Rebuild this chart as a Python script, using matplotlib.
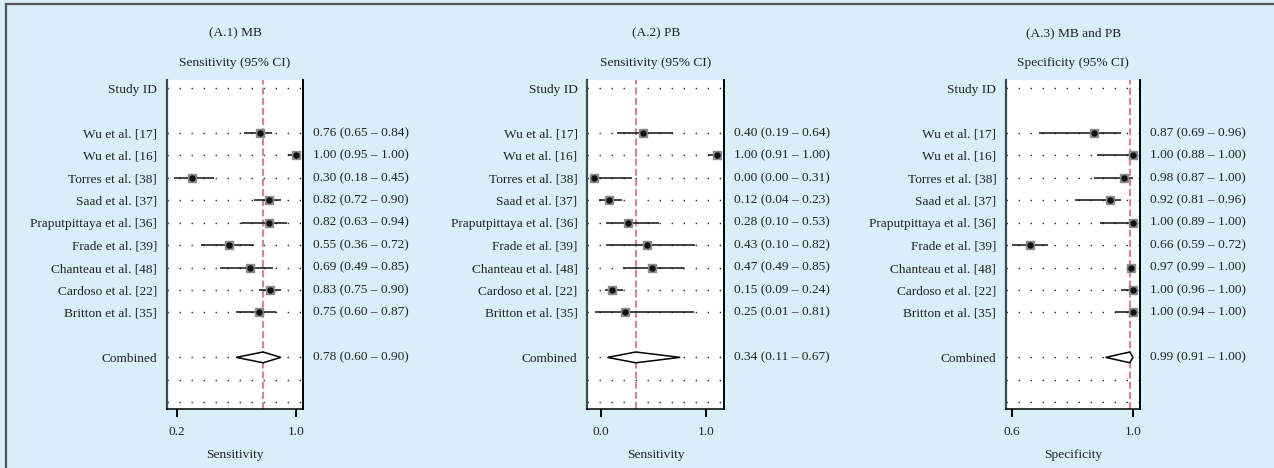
import matplotlib
matplotlib.use("Agg")
import matplotlib.pyplot as plt
from matplotlib.lines import Line2D

plt.rcParams["font.family"] = ["Liberation Serif", "DejaVu Serif"]
plt.rcParams["lines.scale_dashes"] = False

# --- data ---
studies = ["Wu et al. [17]", "Wu et al. [16]", "Torres et al. [38]", "Saad et al. [37]",
           "Praputpittaya et al. [36]", "Frade et al. [39]", "Chanteau et al. [48]",
           "Cardoso et al. [22]", "Britton et al. [35]"]

mb_est = [0.76, 1.00, 0.30, 0.82, 0.82, 0.55, 0.69, 0.83, 0.75]
mb_lo = [0.65, 0.95, 0.18, 0.72, 0.63, 0.36, 0.49, 0.75, 0.60]
mb_hi = [0.84, 1.00, 0.45, 0.90, 0.94, 0.72, 0.85, 0.90, 0.87]
mb_comb = (0.78, 0.60, 0.90)
mb_text = ["0.76 (0.65 – 0.84)", "1.00 (0.95 – 1.00)", "0.30 (0.18 – 0.45)",
           "0.82 (0.72 – 0.90)", "0.82 (0.63 – 0.94)", "0.55 (0.36 – 0.72)",
           "0.69 (0.49 – 0.85)", "0.83 (0.75 – 0.90)", "0.75 (0.60 – 0.87)"]
mb_comb_text = "0.78 (0.60 – 0.90)"

pb_est = [0.40, 1.00, 0.00, 0.12, 0.28, 0.43, 0.47, 0.15, 0.25]
pb_lo = [0.19, 0.93, 0.00, 0.04, 0.10, 0.10, 0.24, 0.09, 0.01]
pb_hi = [0.64, 1.00, 0.31, 0.23, 0.53, 0.82, 0.73, 0.24, 0.81]
pb_comb = (0.34, 0.11, 0.70)
pb_text = ["0.40 (0.19 – 0.64)", "1.00 (0.91 – 1.00)", "0.00 (0.00 – 0.31)",
           "0.12 (0.04 – 0.23)", "0.28 (0.10 – 0.53)", "0.43 (0.10 – 0.82)",
           "0.47 (0.49 – 0.85)", "0.15 (0.09 – 0.24)", "0.25 (0.01 – 0.81)"]
pb_comb_text = "0.34 (0.11 – 0.67)"

sp_est = [0.87, 1.00, 0.97, 0.925, 1.00, 0.66, 0.995, 1.00, 1.00]
sp_lo = [0.69, 0.88, 0.87, 0.81, 0.89, 0.60, 0.99, 0.96, 0.94]
sp_hi = [0.96, 1.00, 1.00, 0.96, 1.00, 0.72, 1.00, 1.00, 1.00]
sp_comb = (0.99, 0.91, 1.00)
sp_text = ["0.87 (0.69 – 0.96)", "1.00 (0.88 – 1.00)", "0.98 (0.87 – 1.00)",
           "0.92 (0.81 – 0.96)", "1.00 (0.89 – 1.00)", "0.66 (0.59 – 0.72)",
           "0.97 (0.99 – 1.00)", "1.00 (0.96 – 1.00)", "1.00 (0.94 – 1.00)"]
sp_comb_text = "0.99 (0.91 – 1.00)"

panels = [
    dict(title="(A.1) MB", sub="Sensitivity (95% CI)", xlabel="Sensitivity",
         est=mb_est, lo=mb_lo, hi=mb_hi, comb=mb_comb, text=mb_text, comb_text=mb_comb_text,
         xlim=(0.132, 1.051), ticks=[0.2, 1.0], ticklabels=["0.2", "1.0"],
         left=166.7, right=303.3),
    dict(title="(A.2) PB", sub="Sensitivity (95% CI)", xlabel="Sensitivity",
         est=pb_est, lo=pb_lo, hi=pb_hi, comb=pb_comb, text=pb_text, comb_text=pb_comb_text,
         xlim=(-0.054, 1.059), ticks=[0.057, 0.91], ticklabels=["0.0", "1.0"],
         left=587.3, right=724.3),
    dict(title="(A.3) MB and PB", sub="Specificity (95% CI)", xlabel="Specificity",
         est=sp_est, lo=sp_lo, hi=sp_hi, comb=sp_comb, text=sp_text, comb_text=sp_comb_text,
         xlim=(0.58, 1.0245), ticks=[0.6, 1.0], ticklabels=["0.6", "1.0"],
         left=1006, right=1140.3),
]

W, H = 1274, 468
bg = "#d8eff9"
fig = plt.figure(figsize=(W / 100, H / 100), dpi=100, facecolor=bg)

# outer frame (top and left edges visible)
fig.add_artist(Line2D([6 / W, 1], [1 - 4 / H, 1 - 4 / H], color="#555555", lw=1.6))
fig.add_artist(Line2D([6 / W, 6 / W], [0, 1 - 4 / H], color="#555555", lw=1.6))

top_px, bot_px = 80, 409
study_rows = list(range(2, 11))
comb_row = 12
grid_rows = [0] + study_rows + [comb_row, 13, 14]
fs = 9.6
tc = "#222222"

for p in panels:
    ax = fig.add_axes([p["left"] / W, 1 - bot_px / H, (p["right"] - p["left"]) / W,
                       (bot_px - top_px) / H])
    ax.set_facecolor("white")
    ax.set_xlim(*p["xlim"])
    ax.set_ylim(14.3, -0.36)

    for r in grid_rows:
        ax.axhline(r, color="#222222", lw=1.0, linestyle=(0, (1.0, 7.65)), zorder=1)

    ax.axvline(p["comb"][0], color="#d6849a", lw=1.5, linestyle=(0, (5, 2.3)), zorder=2,
               clip_on=False)

    for r, e, lo, hi in zip(study_rows, p["est"], p["lo"], p["hi"]):
        ax.plot([lo, hi], [r, r], color="#111111", lw=1.1, zorder=3, solid_capstyle="butt")
        ax.plot(e, r, marker="s", ms=5.8, color="#8a8a8a", mec="#8a8a8a", zorder=4)
        ax.plot(e, r, marker="o", ms=3.6, color="#111111", zorder=5)

    ce, clo, chi = p["comb"]
    h = 0.24
    ax.fill([clo, ce, chi, ce, clo], [comb_row, comb_row - h, comb_row, comb_row + h, comb_row],
            facecolor="white", edgecolor="black", lw=1.1, zorder=4)

    ytr = ax.get_yaxis_transform()
    for r, t in zip(study_rows, p["text"]):
        ax.text(1.07, r, t, transform=ytr, va="center", ha="left", fontsize=fs, color=tc)
    ax.text(1.07, comb_row, p["comb_text"], transform=ytr, va="center", ha="left",
            fontsize=fs, color=tc)

    ax.set_yticks([0] + study_rows + [comb_row])
    ax.set_yticklabels(["Study ID"] + studies + ["Combined"], fontsize=fs, color=tc)
    ax.tick_params(axis="y", length=0, pad=7)

    ax.set_xticks(p["ticks"])
    ax.set_xticklabels(p["ticklabels"], fontsize=fs, color=tc)
    ax.tick_params(axis="x", direction="out", length=6, width=1.4, pad=6, color="black")
    ax.set_xlabel(p["xlabel"], fontsize=fs, color=tc, labelpad=8)

    ax.spines["top"].set_visible(False)
    ax.spines["left"].set_color("#3e4a50")
    ax.spines["left"].set_linewidth(1.6)
    ax.spines["right"].set_color("black")
    ax.spines["right"].set_linewidth(1.4)
    ax.spines["bottom"].set_linewidth(1.1)

    ax.text(0.5, 1.143, p["title"], transform=ax.transAxes, ha="center", va="center",
            fontsize=fs, color=tc)
    ax.text(0.5, 1.052, p["sub"], transform=ax.transAxes, ha="center", va="center",
            fontsize=fs, color=tc)

fig.savefig("out.png", dpi=100, facecolor=bg)
